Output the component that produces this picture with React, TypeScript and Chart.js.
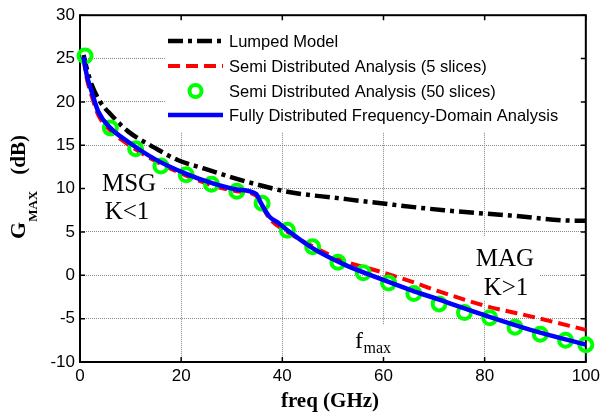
import React, { useEffect, useRef } from "react";
import { Chart, registerables } from "chart.js";

Chart.register(...registerables);

// ---- Data ----
const LUMPED_FREQ = [0.7, 1.5, 2.3, 4, 6, 9.5, 14.8, 19.3, 24.6, 30, 34.8, 41.3, 51, 59.5, 72, 85, 98, 100];
const LUMPED_GAIN = [25.4, 23.5, 22.0, 20.0, 18.6, 16.6, 14.7, 13.3, 12.3, 11.3, 10.5, 9.6, 8.9, 8.3, 7.5, 6.9, 6.3, 6.3];

const SEMI5_FREQ = [0.7, 1.3, 2.3, 3.6, 6, 9.5, 14.8, 21, 26, 31, 34.8, 35.8, 37.4, 41, 45.8, 52.4, 58.9, 65.4, 70.7, 80, 90.3, 100];
const SEMI5_GAIN = [25.0, 22.8, 20.7, 18.5, 16.7, 15.1, 13.2, 11.5, 10.4, 9.7, 9.2, 8.2, 6.6, 5.0, 3.4, 1.6, 0.5, -0.7, -1.8, -3.5, -4.9, -6.3];

const SEMI50_FREQ = [1, 6, 11, 16, 21, 26, 31, 36, 41, 46, 51, 56, 61, 66, 71, 76, 81, 86, 91, 96, 100];
const SEMI50_GAIN = [25.3, 17.0, 14.6, 12.6, 11.6, 10.5, 9.7, 8.3, 5.2, 3.3, 1.5, 0.3, -0.9, -2.1, -3.3, -4.3, -4.9, -6.0, -6.8, -7.5, -8.0];

const FULL_FREQ = [0.7, 1.3, 2.3, 3.6, 6, 9.5, 14.8, 21, 26, 31, 34.8, 35.8, 37.4, 39.3, 41, 45.8, 52.4, 58.9, 65.4, 70.7, 80, 90.3, 100];
const FULL_GAIN = [25.2, 23.2, 21.2, 18.9, 17.0, 15.4, 13.4, 11.7, 10.65, 9.9, 9.4, 8.3, 6.8, 6.0, 5.2, 3.2, 1.2, -0.3, -1.7, -2.75, -4.6, -6.5, -8.0];

const X_TICKS = [0, 20, 40, 60, 80, 100];
const Y_TICKS = [-10, -5, 0, 5, 10, 15, 20, 25, 30];

const SERIES_LABELS = [
  "Lumped Model",
  "Semi Distributed Analysis (5 slices)",
  "Semi Distributed Analysis (50 slices)",
  "Fully Distributed Frequency-Domain Analysis",
];

const zip = (xs: number[], ys: number[]) => xs.map((x, i) => ({ x, y: ys[i] }));

const SANS = "'Liberation Sans', Arial, sans-serif";
const SERIF = "'Liberation Serif', 'Times New Roman', serif";

const decorPlugin = {
  id: "decor",
  beforeDatasetsDraw(chart: any) {
    const ctx = chart.ctx;
    const { left, right, top, bottom } = chart.chartArea;
    ctx.save();
    ctx.fillStyle = "#ffffff";
    ctx.fillRect(165, top + 2, right - 2 - 165, 132 - top - 2); // legend
    ctx.fillRect(left + 4, 165, 163 - left - 4, 62); // MSG K<1
    ctx.fillRect(470, 236, 70, 64); // MAG K>1
    ctx.fillRect(350, 325, 48, bottom - 1 - 325); // f_max

    ctx.strokeStyle = "#000";
    ctx.lineWidth = 2;
    ctx.strokeRect(left, top, right - left, bottom - top);

    const xs = chart.scales.x;
    const ys = chart.scales.y;
    const tl = 5;
    ctx.lineWidth = 1.5;
    ctx.beginPath();
    X_TICKS.forEach((v) => {
      const px = xs.getPixelForValue(v);
      ctx.moveTo(px, bottom);
      ctx.lineTo(px, bottom - tl);
      ctx.moveTo(px, top);
      ctx.lineTo(px, top + tl);
    });
    Y_TICKS.forEach((v) => {
      const py = ys.getPixelForValue(v);
      ctx.moveTo(left, py);
      ctx.lineTo(left + tl, py);
      ctx.moveTo(right, py);
      ctx.lineTo(right - tl, py);
    });
    ctx.stroke();
    ctx.restore();
  },
  afterDatasetsDraw(chart: any) {
    const ctx = chart.ctx;
    ctx.save();
    const rows = [41, 66, 91, 115];
    const x0 = 168;
    const x1 = 223;
    ctx.lineCap = "butt";
    ctx.strokeStyle = "#000";
    ctx.lineWidth = 4.5;
    ctx.setLineDash([15, 5, 4, 5]);
    ctx.beginPath();
    ctx.moveTo(x0, rows[0]);
    ctx.lineTo(x1, rows[0]);
    ctx.stroke();
    ctx.strokeStyle = "#ff0000";
    ctx.lineWidth = 4;
    ctx.setLineDash([12, 6]);
    ctx.beginPath();
    ctx.moveTo(x0, rows[1]);
    ctx.lineTo(x1, rows[1]);
    ctx.stroke();
    ctx.setLineDash([]);
    ctx.strokeStyle = "#00ff00";
    ctx.lineWidth = 4;
    ctx.beginPath();
    ctx.arc((x0 + x1) / 2, rows[2], 6, 0, Math.PI * 2);
    ctx.stroke();
    ctx.strokeStyle = "#0000ff";
    ctx.lineWidth = 4.5;
    ctx.beginPath();
    ctx.moveTo(x0, rows[3]);
    ctx.lineTo(x1, rows[3]);
    ctx.stroke();

    ctx.fillStyle = "#000";
    ctx.font = `16.5px ${SANS}`;
    ctx.textAlign = "left";
    ctx.textBaseline = "middle";
    SERIES_LABELS.forEach((t, i) => ctx.fillText(t, 229, rows[i] + 1));

    ctx.textBaseline = "alphabetic";
    ctx.textAlign = "center";
    ctx.font = `25px ${SERIF}`;
    ctx.fillText("MSG", 129, 191);
    ctx.fillText("K<1", 127, 219);
    ctx.fillText("MAG", 505, 266);
    ctx.fillText("K>1", 506, 295);

    ctx.textAlign = "left";
    ctx.font = `24px ${SERIF}`;
    ctx.fillText("f", 355, 348);
    const fw = ctx.measureText("f").width;
    ctx.font = `16px ${SERIF}`;
    ctx.fillText("max", 355 + fw + 0.5, 353);

    ctx.font = `bold 21px ${SERIF}`;
    ctx.textAlign = "center";
    ctx.fillText("freq (GHz)", 330, 407);

    ctx.translate(25, 187);
    ctx.rotate(-Math.PI / 2);
    ctx.textAlign = "left";
    ctx.font = `bold 22px ${SERIF}`;
    const gW = ctx.measureText("G").width;
    ctx.font = `bold 21px ${SERIF}`;
    const dbW = ctx.measureText("(dB)").width;
    ctx.font = `bold 13px ${SERIF}`;
    const subW = ctx.measureText("MAX").width;
    const gap = 16;
    const total = gW + subW + gap + dbW;
    let cx = -total / 2;
    ctx.font = `bold 22px ${SERIF}`;
    ctx.fillText("G", cx, 0);
    cx += gW;
    ctx.font = `bold 13px ${SERIF}`;
    ctx.fillText("MAX", cx, 12);
    cx += subW + gap;
    ctx.font = `bold 21px ${SERIF}`;
    ctx.fillText("(dB)", cx, 0);
    ctx.restore();
  },
};

export default function App() {
  const ref = useRef<HTMLCanvasElement | null>(null);

  useEffect(() => {
    if (!ref.current) return;
    const chart = new Chart(ref.current, {
      type: "line",
      data: {
        datasets: [
          {
            label: SERIES_LABELS[0],
            data: zip(LUMPED_FREQ, LUMPED_GAIN),
            borderColor: "#000000",
            borderWidth: 4.5,
            borderDash: [15, 5, 4, 5],
            pointRadius: 0,
            fill: false,
            cubicInterpolationMode: "monotone",
            order: 4,
          },
          {
            label: SERIES_LABELS[1],
            data: zip(SEMI5_FREQ, SEMI5_GAIN),
            borderColor: "#ff0000",
            borderWidth: 4,
            borderDash: [12, 6],
            pointRadius: 0,
            fill: false,
            cubicInterpolationMode: "monotone",
            order: 3,
          },
          {
            label: SERIES_LABELS[2],
            data: zip(SEMI50_FREQ, SEMI50_GAIN),
            showLine: false,
            borderColor: "#00ff00",
            backgroundColor: "rgba(0,0,0,0)",
            pointRadius: 6.5,
            pointBorderWidth: 4,
            pointBorderColor: "#00ff00",
            pointBackgroundColor: "rgba(0,0,0,0)",
            clip: false,
            order: 2,
          } as any,
          {
            label: SERIES_LABELS[3],
            data: zip(FULL_FREQ, FULL_GAIN),
            borderColor: "#0000ff",
            borderWidth: 4.5,
            pointRadius: 0,
            fill: false,
            cubicInterpolationMode: "monotone",
            order: 1,
          },
        ],
      },
      options: {
        responsive: false,
        animation: false,
        events: [],
        layout: { padding: { left: 0, top: 13, right: 14, bottom: 0 } },
        plugins: {
          legend: { display: false },
          tooltip: { enabled: false },
          title: { display: false },
        },
        scales: {
          x: {
            type: "linear",
            min: 0,
            max: 100,
            afterFit: (s: any) => {
              s.height = 56;
            },
            afterBuildTicks: (s: any) => {
              s.ticks = X_TICKS.map((v) => ({ value: v }));
            },
            ticks: {
              color: "#000",
              font: { family: SANS, size: 17 },
              padding: 4,
              maxRotation: 0,
            },
            grid: { color: "#888888", lineWidth: 1, drawTicks: false },
            border: { display: false, dash: [1, 1] },
          },
          y: {
            type: "linear",
            min: -10,
            max: 30,
            afterFit: (s: any) => {
              s.width = 80;
            },
            afterBuildTicks: (s: any) => {
              s.ticks = Y_TICKS.map((v) => ({ value: v }));
            },
            ticks: {
              color: "#000",
              font: { family: SANS, size: 17 },
              padding: 5,
            },
            grid: { color: "#888888", lineWidth: 1, drawTicks: false },
            border: { display: false, dash: [1, 1] },
          },
        },
      },
      plugins: [decorPlugin],
    } as any);
    return () => chart.destroy();
  }, []);

  return (
    <div style={{ position: "absolute", left: 0, top: 0, width: 604, height: 418, background: "#fff" }}>
      <canvas ref={ref} width={604} height={418} style={{ width: 604, height: 418, display: "block" }} />
    </div>
  );
}
